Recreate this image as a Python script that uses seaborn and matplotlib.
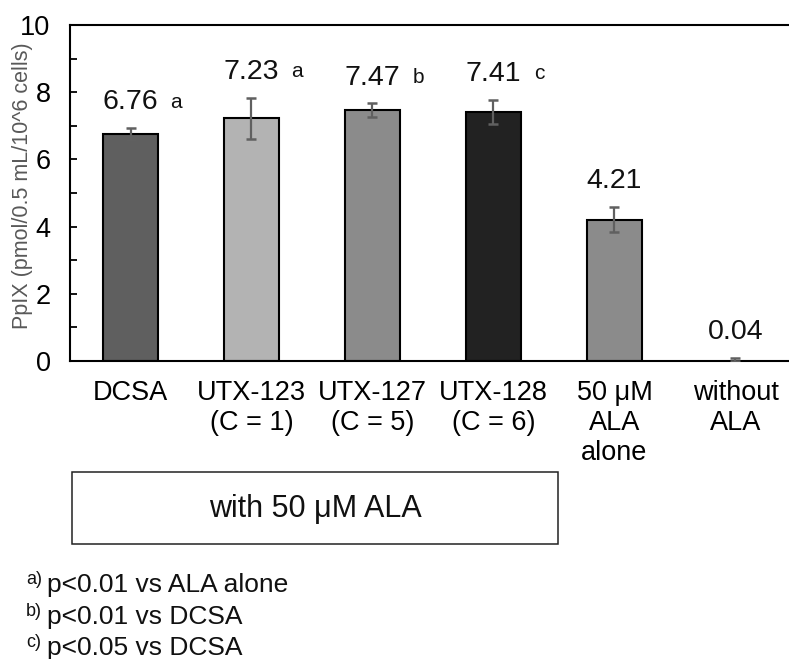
import matplotlib
matplotlib.use("Agg")
import matplotlib.pyplot as plt
from matplotlib.patches import Rectangle
from matplotlib.ticker import MultipleLocator
import seaborn as sns
import pandas as pd

# PpIX production per treatment
categories = ["DCSA", "UTX-123\n(C = 1)", "UTX-127\n(C = 5)", "UTX-128\n(C = 6)",
              "50 μM\nALA\nalone", "without\nALA"]
values = [6.76, 7.23, 7.47, 7.41, 4.21, 0.04]
errors = [0.17, 0.61, 0.20, 0.37, 0.38, 0.05]
value_labels = ["6.76", "7.23", "7.47", "7.41", "4.21", "0.04"]
sig_letters = ["a", "a", "b", "c", "", ""]
bar_colors = ["#5f5f5f", "#b3b3b3", "#8b8b8b", "#222222", "#8b8b8b", "#555555"]
footnotes = [("a)", "p<0.01 vs ALA alone"),
             ("b)", "p<0.01 vs DCSA"),
             ("c)", "p<0.05 vs DCSA")]

sns.set_theme(style="white")
plt.rcParams["font.family"] = ["Liberation Sans", "DejaVu Sans"]

W, H = 789, 659
fig = plt.figure(figsize=(W / 100, H / 100), dpi=100)
fig.patch.set_facecolor("white")


def fx(px):
    return px / W


def fy(py):
    return 1 - py / H


ax = fig.add_axes([fx(70), fy(361), 726 / W, 336 / H])

df = pd.DataFrame({"group": categories, "value": values})
sns.barplot(data=df, x="group", y="value", hue="group", palette=bar_colors,
            order=categories, hue_order=categories, legend=False,
            width=0.46, edgecolor="black", linewidth=1.5, ax=ax, zorder=2)
# the near-zero bar is too flat to show its outline
for patch in ax.patches:
    if patch.get_height() < 0.1:
        patch.set_linewidth(0)

xpos = list(range(len(categories)))
ax.errorbar(xpos, values, yerr=errors, fmt="none", ecolor="#606060",
            elinewidth=1.6, capsize=3.8, capthick=1.8, zorder=3)

ax.set_ylim(0, 10)
ax.set_xlim(-0.5, len(categories) - 0.5)
ax.yaxis.set_major_locator(MultipleLocator(2))
ax.yaxis.set_minor_locator(MultipleLocator(1))
ax.tick_params(axis="y", which="both", direction="in", length=5, width=1.3,
               color="black", left=True, labelsize=19.5, pad=14, labelcolor="black")
ax.tick_params(axis="x", length=0, labelsize=19.5, pad=14, labelcolor="black")
for lbl in ax.get_xticklabels():
    lbl.set_linespacing(1.2)
ax.set_xlabel("")
ax.set_ylabel("")
for side in ["left", "bottom", "top"]:
    ax.spines[side].set_visible(True)
    ax.spines[side].set_color("black")
    ax.spines[side].set_linewidth(1.5)
ax.spines["right"].set_visible(False)

# value labels with significance letters
for i, (v, e, txt, sig) in enumerate(zip(values, errors, value_labels, sig_letters)):
    top = v + e
    ax.annotate(txt, xy=(i, top), xytext=(0, 13.5), textcoords="offset points",
                ha="center", va="baseline", fontsize=20.5, color="#111111")
    if sig:
        ax.annotate(sig, xy=(i, top), xytext=(33, 14.5), textcoords="offset points",
                    ha="center", va="baseline", fontsize=15, color="#111111")

fig.text(fx(23), fy(186), "PpIX (pmol/0.5 mL/10^6 cells)", rotation=90,
         ha="center", va="center", fontsize=15.5, color="#595959")

# bracket box for the ALA-treated groups
fig.add_artist(Rectangle((fx(72), fy(544)), fx(558) - fx(72), fy(472) - fy(544),
                         transform=fig.transFigure, fill=False,
                         edgecolor="#222222", linewidth=1.1))
fig.text(fx(315), fy(509), "with 50 μM ALA", ha="center", va="center",
         fontsize=22, color="#111111")

baselines = [592, 624, 655]
for (sup, note), yb in zip(footnotes, baselines):
    fig.text(fx(26), fy(yb - 8), sup, ha="left", va="baseline",
             fontsize=13, color="#111111")
    fig.text(fx(47), fy(yb), note, ha="left", va="baseline",
             fontsize=19, color="#111111")

fig.savefig("out.png", dpi=100, facecolor="white")
